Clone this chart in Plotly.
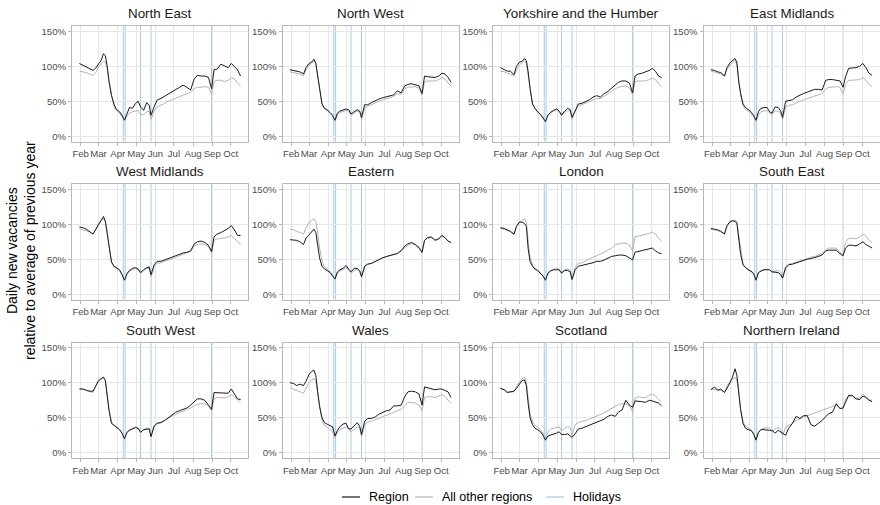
import plotly.graph_objects as go
from plotly.subplots import make_subplots

W, H = 880, 505

# Observation dates (2020)
dates = [
    "2020-01-30", "2020-02-05", "2020-02-10", "2020-02-15", "2020-02-21", "2020-02-25",
    "2020-03-01", "2020-03-05", "2020-03-09", "2020-03-12", "2020-03-15", "2020-03-18",
    "2020-03-22", "2020-03-26", "2020-03-30",
    "2020-04-04", "2020-04-08", "2020-04-12", "2020-04-16", "2020-04-20", "2020-04-25", "2020-04-30",
    "2020-05-04", "2020-05-08", "2020-05-13", "2020-05-18", "2020-05-22", "2020-05-25", "2020-05-30",
    "2020-06-04", "2020-06-10", "2020-06-16", "2020-06-22", "2020-06-28",
    "2020-07-04", "2020-07-10", "2020-07-16", "2020-07-22", "2020-07-28",
    "2020-08-03", "2020-08-08", "2020-08-14", "2020-08-20", "2020-08-26", "2020-08-31",
    "2020-09-04", "2020-09-09", "2020-09-15", "2020-09-21", "2020-09-27",
    "2020-10-02", "2020-10-07", "2020-10-12", "2020-10-17",
]

holidays = ["2020-04-10", "2020-04-13", "2020-05-08", "2020-05-25", "2020-08-31"]

month_ticks = ["2020-02-01", "2020-03-01", "2020-04-01", "2020-05-01", "2020-06-01",
               "2020-07-01", "2020-08-01", "2020-09-01", "2020-10-01"]
month_labels = ["Feb", "Mar", "Apr", "May", "Jun", "Jul", "Aug", "Sep", "Oct"]
pct_ticks = [0, 50, 100, 150]
pct_labels = ["0%", "50%", "100%", "150%"]

# Daily new vacancies, % of previous-year average: region vs all other regions
north_east = [104, 101, 99, 97, 94, 97, 104, 108, 118, 115, 100, 78, 58, 46, 38, 35, 30, 23, 32, 41, 40, 47,
              50, 42, 37, 48, 44, 30, 42, 52, 54, 57, 61, 64, 66, 70, 73, 70, 66, 82, 87, 86, 86, 84, 68,
              95, 96, 103, 100, 98, 104, 99, 95, 86]
north_east_rest = [93, 92, 91, 89, 87, 90, 99, 103, 107, 106, 97, 78, 58, 42, 37, 33, 28, 22, 29, 33, 35, 36,
                   37, 31, 31, 35, 36, 24, 36, 42, 44, 47, 50, 52, 54, 56, 58, 61, 63, 68, 70, 70, 71, 70, 60,
                   78, 80, 80, 78, 80, 83, 82, 76, 72]

north_west = [95, 94, 93, 92, 89, 98, 104, 106, 110, 104, 86, 67, 46, 40, 38, 34, 30, 23, 33, 36, 37, 39,
              38, 32, 35, 38, 36, 27, 45, 45, 48, 51, 53, 55, 56, 57, 59, 65, 62, 72, 74, 75, 74, 72, 61,
              86, 85, 84, 84, 86, 90, 89, 84, 77]
north_west_rest = [92, 91, 90, 89, 86, 95, 102, 104, 108, 103, 86, 66, 46, 39, 37, 33, 29, 21, 31, 34, 35, 37,
                   36, 30, 33, 36, 35, 24, 40, 43, 45, 48, 50, 52, 53, 55, 57, 61, 60, 68, 70, 71, 71, 69, 59,
                   78, 79, 79, 79, 81, 84, 82, 76, 71]

yorkshire = [98, 95, 93, 93, 88, 100, 106, 107, 111, 108, 92, 68, 46, 40, 35, 31, 26, 21, 30, 34, 37, 39,
             36, 30, 36, 40, 38, 27, 36, 46, 47, 49, 52, 56, 58, 56, 61, 64, 69, 74, 77, 79, 79, 76, 62,
             86, 89, 90, 92, 94, 97, 93, 86, 84]
yorkshire_rest = [93, 92, 90, 89, 86, 95, 102, 105, 108, 104, 88, 66, 46, 39, 36, 32, 28, 21, 30, 34, 36, 38,
                  36, 30, 34, 37, 36, 24, 36, 43, 45, 47, 49, 52, 54, 54, 57, 60, 64, 68, 70, 71, 72, 69, 59,
                  78, 79, 79, 79, 81, 83, 81, 75, 71]

east_midlands = [95, 94, 92, 91, 86, 98, 105, 108, 111, 106, 78, 62, 46, 41, 38, 35, 30, 23, 35, 40, 41, 41,
                 35, 33, 42, 41, 36, 27, 50, 51, 52, 56, 59, 61, 63, 65, 67, 67, 66, 80, 81, 81, 80, 79, 70,
                 85, 97, 97, 98, 100, 104, 98, 90, 87]
east_midlands_rest = [93, 92, 90, 89, 86, 95, 102, 105, 108, 103, 80, 60, 44, 38, 36, 32, 28, 21, 31, 35, 36, 37,
                      33, 31, 36, 36, 33, 24, 42, 44, 45, 48, 50, 52, 54, 56, 58, 60, 61, 68, 70, 70, 71, 70, 60,
                      74, 80, 80, 80, 81, 84, 80, 74, 71]

west_midlands = [96, 95, 93, 90, 86, 92, 100, 106, 111, 104, 88, 68, 46, 40, 38, 35, 28, 20, 29, 34, 37, 38,
                 36, 31, 35, 38, 39, 28, 42, 47, 47, 49, 51, 53, 56, 57, 59, 60, 62, 72, 75, 76, 74, 70, 61,
                 82, 86, 88, 91, 94, 98, 92, 84, 84]
west_midlands_rest = [93, 92, 91, 89, 86, 92, 101, 105, 108, 104, 90, 68, 46, 39, 37, 33, 28, 21, 30, 33, 35, 37,
                      35, 30, 34, 37, 37, 25, 40, 44, 45, 47, 49, 51, 54, 55, 57, 59, 61, 69, 71, 72, 71, 68, 59,
                      77, 79, 80, 80, 82, 84, 80, 75, 71]

eastern = [78, 78, 77, 75, 71, 80, 85, 88, 93, 88, 66, 52, 40, 36, 34, 31, 26, 22, 32, 35, 37, 41,
           36, 32, 37, 37, 33, 25, 40, 43, 44, 47, 50, 52, 54, 55, 56, 58, 62, 69, 72, 74, 71, 66, 60,
           77, 81, 82, 77, 79, 84, 81, 76, 74]
eastern_rest = [93, 92, 90, 88, 86, 95, 103, 105, 108, 103, 88, 66, 48, 39, 36, 33, 28, 21, 30, 33, 35, 38,
                35, 30, 34, 36, 34, 24, 40, 43, 44, 47, 49, 52, 53, 55, 56, 59, 62, 67, 70, 72, 71, 68, 59,
                77, 80, 81, 78, 80, 84, 81, 76, 73]

london = [95, 94, 92, 90, 86, 97, 103, 103, 101, 97, 65, 47, 40, 36, 34, 30, 26, 20, 30, 33, 35, 35,
          35, 30, 34, 34, 32, 21, 35, 40, 41, 42, 44, 45, 47, 47, 49, 52, 54, 55, 56, 56, 55, 52, 49,
          60, 61, 62, 63, 64, 66, 62, 59, 58]
london_rest = [94, 93, 91, 89, 85, 97, 104, 105, 108, 103, 75, 52, 42, 37, 35, 31, 27, 21, 31, 34, 36, 37,
               36, 31, 35, 36, 35, 22, 38, 44, 45, 48, 51, 53, 55, 57, 60, 63, 66, 71, 72, 73, 73, 70, 62,
               82, 83, 84, 85, 87, 89, 86, 80, 76]

south_east = [94, 93, 92, 90, 86, 98, 104, 105, 104, 102, 82, 58, 42, 38, 35, 33, 30, 20, 31, 33, 35, 35,
              35, 32, 32, 31, 28, 23, 38, 42, 43, 45, 47, 48, 50, 51, 52, 54, 56, 62, 63, 63, 63, 58, 55,
              66, 70, 70, 69, 72, 75, 71, 68, 66]
south_east_rest = [93, 92, 91, 89, 86, 97, 103, 105, 106, 103, 85, 60, 43, 38, 36, 32, 29, 21, 31, 34, 35, 36,
                   35, 31, 33, 34, 32, 23, 39, 43, 44, 46, 48, 50, 52, 53, 54, 56, 58, 64, 66, 66, 66, 60, 56,
                   74, 80, 80, 79, 82, 86, 83, 77, 74]

south_west = [91, 91, 89, 88, 88, 95, 103, 106, 108, 103, 80, 60, 42, 39, 37, 33, 28, 20, 29, 32, 34, 36,
              35, 29, 33, 34, 34, 23, 38, 42, 43, 46, 50, 54, 58, 60, 62, 64, 68, 73, 77, 77, 75, 68, 62,
              86, 86, 85, 85, 85, 91, 84, 77, 76]
south_west_rest = [92, 91, 90, 88, 86, 94, 102, 105, 107, 103, 82, 62, 44, 39, 37, 33, 28, 21, 30, 33, 35, 37,
                   35, 30, 33, 35, 35, 24, 39, 43, 44, 47, 50, 53, 55, 57, 59, 61, 64, 67, 69, 70, 70, 67, 60,
                   77, 79, 79, 78, 80, 83, 80, 75, 71]

wales = [100, 99, 96, 98, 96, 102, 112, 116, 118, 110, 87, 66, 50, 43, 41, 39, 37, 24, 32, 37, 41, 42,
         34, 34, 38, 43, 38, 26, 45, 49, 49, 51, 55, 58, 60, 61, 67, 67, 68, 80, 87, 88, 87, 84, 68,
         94, 93, 92, 90, 91, 91, 89, 87, 79]
wales_rest = [93, 91, 89, 88, 85, 92, 100, 104, 106, 102, 85, 64, 46, 39, 37, 33, 30, 21, 29, 33, 35, 37,
              35, 30, 33, 37, 35, 23, 40, 44, 45, 47, 49, 51, 53, 55, 57, 60, 62, 67, 72, 72, 71, 68, 60,
              79, 80, 80, 79, 81, 83, 81, 75, 71]

scotland = [92, 90, 86, 87, 88, 92, 98, 103, 104, 96, 70, 50, 40, 35, 33, 30, 25, 18, 24, 25, 26, 28,
            30, 26, 26, 27, 24, 22, 27, 34, 35, 37, 39, 41, 43, 46, 48, 52, 54, 52, 58, 61, 75, 68, 65,
            74, 74, 73, 72, 75, 74, 73, 71, 67]
scotland_rest = [93, 90, 88, 87, 87, 95, 102, 106, 108, 101, 78, 56, 44, 39, 37, 33, 28, 20, 30, 34, 35, 36,
                 37, 31, 35, 37, 36, 24, 40, 43, 44, 46, 48, 50, 52, 54, 57, 60, 63, 67, 69, 70, 70, 67, 59,
                 78, 80, 79, 79, 82, 84, 81, 76, 73]

northern_ireland = [90, 94, 89, 91, 86, 92, 100, 108, 120, 111, 85, 62, 42, 35, 33, 32, 27, 18, 29, 33, 33, 32,
                    32, 32, 28, 32, 30, 28, 25, 35, 42, 52, 49, 53, 53, 40, 38, 42, 46, 52, 56, 58, 70, 63, 64,
                    72, 82, 82, 77, 76, 81, 79, 75, 73]
northern_ireland_rest = [91, 91, 90, 89, 87, 95, 102, 105, 108, 104, 88, 63, 44, 38, 36, 33, 28, 20, 30, 33, 35, 36,
                         35, 30, 34, 36, 34, 24, 37, 39, 42, 46, 49, 51, 53, 55, 56, 59, 60, 62, 64, 66, 68, 64, 62,
                         77, 80, 80, 78, 78, 84, 80, 76, 75]

panels = [
    ("North East", north_east, north_east_rest),
    ("North West", north_west, north_west_rest),
    ("Yorkshire and the Humber", yorkshire, yorkshire_rest),
    ("East Midlands", east_midlands, east_midlands_rest),
    ("West Midlands", west_midlands, west_midlands_rest),
    ("Eastern", eastern, eastern_rest),
    ("London", london, london_rest),
    ("South East", south_east, south_east_rest),
    ("South West", south_west, south_west_rest),
    ("Wales", wales, wales_rest),
    ("Scotland", scotland, scotland_rest),
    ("Northern Ireland", northern_ireland, northern_ireland_rest),
]

REGION_COLOR = "#1a1a1a"
OTHERS_COLOR = "#b3b3b3"
HOLIDAY_COLOR = "#a9c9e6"
GRID_COLOR = "#e6e6e6"
FRAME_COLOR = "#b8b8b8"
FONT = "Liberation Sans, Arial, sans-serif"

# Panel geometry in pixels
col_left = [72, 282.5, 493, 703.5]
panel_w = 176
row_top = [26, 184, 342.5]
panel_h = 115.5


def px_x(x):
    return x / W


def px_y(y):
    return 1 - y / H


fig = make_subplots(rows=3, cols=4)

for k, (name, region, rest) in enumerate(panels):
    r, c = divmod(k, 4)
    n = k + 1
    sfx = "" if n == 1 else str(n)
    x0 = col_left[c]
    y0 = row_top[r]
    fig.layout[f"xaxis{sfx}"].domain = [px_x(x0), px_x(x0 + panel_w)]
    fig.layout[f"yaxis{sfx}"].domain = [px_y(y0 + panel_h), px_y(y0)]

    for h in holidays:
        fig.add_shape(type="line", x0=h, x1=h, y0=0, y1=1,
                      xref=f"x{sfx}", yref=f"y{sfx} domain",
                      line=dict(color=HOLIDAY_COLOR, width=1), layer="below")

    fig.add_trace(go.Scatter(x=dates, y=rest, mode="lines",
                             line=dict(color=OTHERS_COLOR, width=1),
                             showlegend=False, hoverinfo="skip"), row=r + 1, col=c + 1)
    fig.add_trace(go.Scatter(x=dates, y=region, mode="lines",
                             line=dict(color=REGION_COLOR, width=1),
                             showlegend=False, hoverinfo="skip"), row=r + 1, col=c + 1)

    fig.add_annotation(text=name, x=px_x(x0 + panel_w / 2), y=px_y(y0 - 12.5),
                       xref="paper", yref="paper", showarrow=False,
                       xanchor="center", yanchor="middle",
                       font=dict(family=FONT, size=13.4, color="#1a1a1a"))

fig.update_xaxes(type="date", range=["2020-01-18", "2020-10-29"],
                 tickvals=month_ticks, ticktext=month_labels, tickangle=0,
                 ticks="outside", ticklen=3, tickwidth=1, tickcolor=FRAME_COLOR,
                 showgrid=True, gridcolor=GRID_COLOR, gridwidth=1,
                 showline=True, linecolor=FRAME_COLOR, linewidth=1, mirror=True,
                 zeroline=False,
                 tickfont=dict(family=FONT, size=9.6, color="#4d4d4d"))
fig.update_yaxes(range=[-7.5, 157.5], tickvals=pct_ticks, ticktext=pct_labels,
                 ticks="outside", ticklen=3, tickwidth=1, tickcolor=FRAME_COLOR,
                 showgrid=True, gridcolor=GRID_COLOR, gridwidth=1,
                 showline=True, linecolor=FRAME_COLOR, linewidth=1, mirror=True,
                 zeroline=False,
                 tickfont=dict(family=FONT, size=9.6, color="#4d4d4d"))

# Shared y-axis title
fig.add_annotation(text="Daily new vacancies<br>relative to average of previous year",
                   x=px_x(21), y=px_y(251), xref="paper", yref="paper",
                   showarrow=False, textangle=-90, xanchor="center", yanchor="middle",
                   font=dict(family=FONT, size=14, color="#000000"))

# Legend along the bottom
legend_items = [("Region", REGION_COLOR, 342), ("All other regions", OTHERS_COLOR, 415),
                ("Holidays", HOLIDAY_COLOR, 546)]
ly = 497
for label, color, lx in legend_items:
    fig.add_shape(type="line", xref="paper", yref="paper",
                  x0=px_x(lx), x1=px_x(lx + 18), y0=px_y(ly), y1=px_y(ly),
                  line=dict(color=color, width=1.2))
    fig.add_annotation(text=label, x=px_x(lx + 25), y=px_y(ly), xref="paper", yref="paper",
                       showarrow=False, xanchor="left", yanchor="middle",
                       font=dict(family=FONT, size=12.5, color="#000000"))

fig.update_layout(width=W, height=H, margin=dict(l=0, r=0, t=0, b=0),
                  paper_bgcolor="white", plot_bgcolor="white", showlegend=False,
                  font=dict(family=FONT))

fig.write_html("out.html")
